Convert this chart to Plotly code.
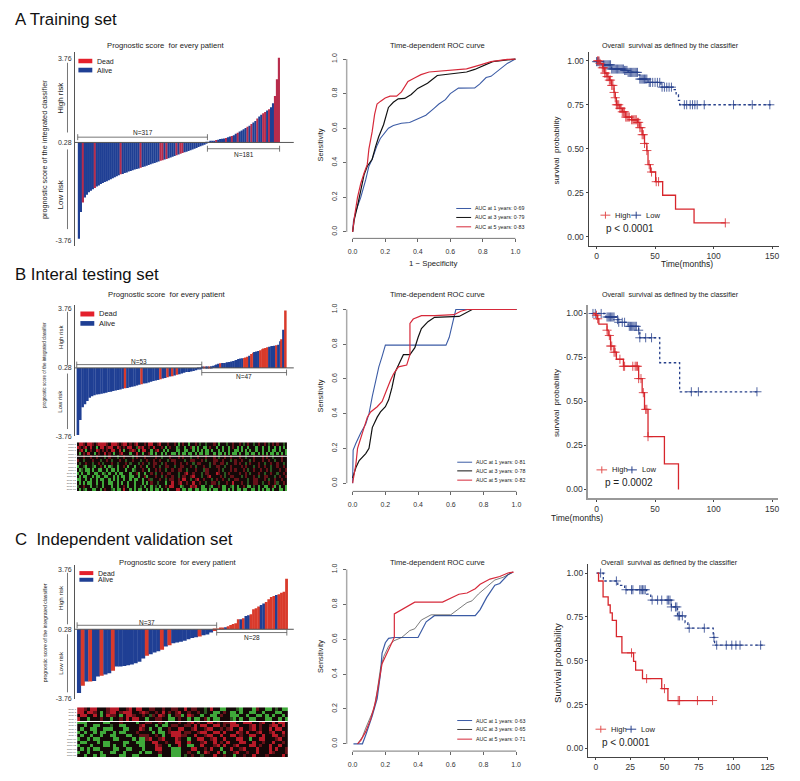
import bisect
import plotly.graph_objects as go

W = 800
H = 781
FONT = "Liberation Sans"
RED = "#e4202c"
BLUE = "#1f3f94"

# prognostic score bars, one list per risk group
low_a = [-3.70,-2.60,-2.20,-2.00,-1.88,-1.78,-1.72,-1.66,-1.60,-1.54,-1.50,-1.44,-1.40,-1.36,-1.32,-1.28,-1.24,-1.20,-1.16,-1.12,-1.08,-1.04,-1.02,-0.98,-0.96,-0.92,-0.90,-0.87,-0.84,-0.82,-0.80,-0.77,-0.74,-0.71,-0.68,-0.65,-0.62,-0.59,-0.57,-0.54,-0.51,-0.48,-0.46,-0.43,-0.40,-0.37,-0.34,-0.31,-0.28,-0.25,-0.22,-0.19,-0.16,-0.13,-0.10,-0.07,-0.04,-0.01,0.02,0.05,0.09,0.12,0.15,0.19,0.23]
high_a = [0.29,0.31,0.33,0.35,0.38,0.39,0.42,0.43,0.44,0.46,0.50,0.53,0.55,0.58,0.64,0.68,0.73,0.77,0.83,0.88,0.93,0.97,1.04,1.10,1.17,1.27,1.35,1.43,1.49,1.54,1.60,1.65,1.74,1.90,2.20,2.89,3.78]
dead_low_a = [2,8,21,31,41,42,44,49,51,52]
dead_high_a = [4,9,12,15,20,22,25,28,29,31,34,35,36]

low_b = [-3.68,-2.80,-2.05,-1.86,-1.68,-1.48,-1.39,-1.33,-1.29,-1.27,-1.25,-1.21,-1.19,-1.15,-1.13,-1.09,-1.05,-1.03,-0.99,-0.95,-0.92,-0.90,-0.86,-0.84,-0.80,-0.76,-0.72,-0.68,-0.64,-0.62,-0.58,-0.54,-0.50,-0.46,-0.43,-0.39,-0.35,-0.31,-0.27,-0.23,-0.21,-0.17,-0.13,-0.09,-0.05,-0.01,0.03,0.04,0.06,0.10,0.14,0.18,0.22]
high_b = [0.32,0.34,0.34,0.36,0.36,0.38,0.40,0.44,0.48,0.52,0.55,0.57,0.57,0.59,0.61,0.63,0.65,0.69,0.71,0.75,0.81,0.83,0.85,0.87,0.89,0.93,0.99,1.10,1.18,1.22,1.24,1.28,1.32,1.38,1.42,1.46,1.50,1.53,1.55,1.57,1.59,1.61,1.65,1.85,1.97,2.53,3.67]
dead_low_b = [20,27,35,38,40,42]
dead_high_b = [1,4,10,23,24,25,27,28,32,33,34,35,36,41,44,46]

low_c = [-3.46,-3.04,-2.78,-2.78,-2.76,-2.49,-2.45,-2.37,-2.31,-2.16,-1.90,-1.90,-1.87,-1.83,-1.79,-1.71,-1.63,-1.44,-1.28,-1.18,-1.09,-1.01,-0.93,-0.73,-0.66,-0.54,-0.50,-0.46,-0.40,-0.31,-0.23,-0.19,-0.15,-0.07,-0.03,0.09,0.18]
high_c = [0.30,0.34,0.36,0.40,0.46,0.53,0.59,0.63,0.87,0.87,0.92,1.06,1.10,1.16,1.45,1.51,1.61,1.70,1.80,1.88,2.04,2.17,2.23,2.29,2.33,2.43,2.48,3.24]
dead_low_c = [1,3,6,9,18,22,24,32,36]
dead_high_c = [0,1,2,4,5,6,7,8,10,13,14,15,16,19,20,21,22,24,25,26,27]

# ROC curves: false positive rate / sensitivity
roc_a_1x = [0,.005,.02,.05,.08,.1,.12,.15,.17,.2,.22,.25,.3,.35,.4,.45,.5,.53,.57,.6,.65,.75,.78,.82,.85,.9,.95,1]
roc_a_1y = [0,.06,.12,.2,.3,.38,.42,.5,.54,.58,.6,.615,.628,.633,.655,.675,.715,.74,.765,.8,.832,.833,.855,.893,.9,.94,.975,1]
roc_a_3x = [0,.01,.03,.05,.07,.09,.12,.14,.16,.19,.22,.25,.28,.32,.36,.4,.46,.52,.6,.7,.75,.8,.86,.95,1]
roc_a_3y = [0,.07,.15,.25,.33,.38,.42,.49,.55,.62,.72,.75,.77,.772,.795,.83,.86,.905,.915,.925,.94,.96,.985,.995,1]
roc_a_5x = [0,.01,.03,.05,.07,.09,.1,.12,.135,.15,.17,.2,.23,.27,.3,.34,.38,.42,.47,.55,.7,.78,.85,.95,1]
roc_a_5y = [0,.08,.2,.28,.34,.39,.48,.58,.68,.74,.755,.775,.785,.785,.81,.87,.89,.91,.925,.93,.943,.965,.985,.998,1]

roc_b_1x = [0,.003,.02,.05,.08,.1,.12,.14,.16,.18,.2,.57,.59,.61,.63,1]
roc_b_1y = [0,.19,.23,.29,.34,.4,.5,.58,.67,.73,.795,.795,.84,.92,1,1]
roc_b_3x = [0,.02,.04,.08,.1,.12,.15,.17,.2,.22,.24,.26,.29,.31,.35,.38,.4,.42,.46,.5,.65,.69,.73,1]
roc_b_3y = [.03,.09,.13,.17,.2,.32,.38,.41,.44,.48,.55,.64,.7,.74,.74,.78,.84,.89,.93,.955,.96,.98,1,1]
roc_b_5x = [0,.02,.03,.05,.07,.09,.11,.15,.18,.2,.23,.25,.28,.33,.34,.35,.35,.37,.42,.5,.62,.66,.7,1]
roc_b_5y = [0,.11,.2,.26,.33,.38,.41,.44,.47,.52,.59,.63,.67,.68,.71,.74,.92,.945,.965,.965,.97,.99,1,1]

roc_c_1x = [.005,.06,.08,.1,.12,.15,.17,.18,.2,.22,.25,.4,.43,.45,.5,.75,.78,.82,.87,.9,.95,.98]
roc_c_1y = [0,0,.05,.1,.16,.26,.4,.52,.58,.605,.61,.61,.66,.7,.735,.735,.77,.84,.91,.92,.97,.985]
roc_c_3x = [.03,.06,.08,.1,.13,.15,.17,.19,.22,.25,.3,.35,.38,.42,.48,.6,.63,.7,.73,.77,.82,.87,.92,.98]
roc_c_3y = [0,.04,.09,.13,.2,.3,.43,.5,.56,.59,.61,.65,.66,.71,.74,.74,.76,.81,.82,.86,.9,.94,.955,.985]
roc_c_5x = [.03,.05,.08,.11,.14,.16,.18,.21,.24,.255,.255,.3,.33,.38,.55,.6,.65,.7,.75,.78,.84,.9,.95,.985]
roc_c_5y = [0,.02,.07,.14,.24,.36,.46,.52,.58,.61,.745,.77,.79,.813,.813,.835,.858,.865,.89,.915,.945,.96,.98,.985]

# survival curves: step times, survival after each step, censoring times
km_a_high_t = [0,3,5,7,9,11,13,15,16,17,20,22,25,30,35,37,39,41,43,44,46,50.5,56.5,67.5,83.3,110]
km_a_high_s = [1.0,.985,.96,.93,.91,.89,.86,.82,.79,.75,.73,.71,.68,.665,.65,.62,.58,.53,.49,.41,.368,.313,.236,.157,.079,.079]
km_a_high_c = [1,2,3,5,6,7,8,9,10,11,12,13,14,15,16,17,18,19,20,21,22,23,24,25,26,27,28,30,31,32,33,34,35,36,37,38,39,40,41,43,45,47,51,53,110]
km_a_low_t = [0,6,13,24,27,36,37,44,55,65.5,68,70,71,150]
km_a_low_s = [.995,.977,.953,.945,.934,.92,.896,.877,.85,.836,.807,.775,.75,.75]
km_a_low_c = [0,1,2,6,7,8,9,10,11,12,13,14,15,16,17,18,19,20,21,22,23,24,25,26,27,28,29,30,31,32,33,34,35,37,38,39,40,41,42,43,45,46,48,50,52,54,56,58,60,62,64,75,77,80,82,84,86,92,117,133,148]

km_b_high_t = [-3,-1,1,2,9,10,12,15,17,23,36,39,41,44,58,70,70]
km_b_high_s = [1.0,.99,.97,.94,.905,.875,.815,.78,.74,.70,.63,.55,.455,.30,.145,.145,0]
km_b_high_c = [0,1,9,11,12,13,15,16,20,23,24,31,33,34,35,36,38,40,42,43,44]
km_b_low_t = [-3,8,17.5,19,27,36,37,54,71,137]
km_b_low_s = [1.0,.98,.965,.95,.927,.905,.862,.72,.555,.555]
km_b_low_c = [-3,-1,4,9,10,11,12,13,14,15,18,19,22,24,28,29,30,31,32,33,34,36,37,42,47,81,87,137]

km_c_high_t = [1,2,5.3,9,10.5,12,15,19,27.5,29,34,48,52.5,85]
km_c_high_s = [1.0,.955,.864,.818,.773,.73,.638,.545,.496,.447,.398,.341,.273,.273]
km_c_high_c = [26,37,50,60,61,74,85]
km_c_low_t = [1,5.5,16,21,37,40,55,59.5,65,67,85.5,86.5,122]
km_c_low_s = [1.0,.955,.93,.905,.88,.846,.807,.756,.718,.686,.633,.589,.589]
km_c_low_c = [3.5,15,22,26,27,32,33,34,35,36,41,45,48,52,53,54,55,58,59,60,61,63,68,79,86,88,95,99,102,105,120]

# gene expression cells: G/g green, k black, r/R red
heat_b = [
    "kRRrk RRrkr RRRRr kRRRr krRRk rkrRk kkrkR RkkrR kkkrk krkGk rkkGk krkgk kgkkk rkGkk kgkkr kkrkg krkkg krkkr kgkrk rkkgk",
    "RrkrR kRkkG kRRkr RRkkR rkrkR RkkgR rRkkr kRkkk rkGkr kkGgk kGkkr GkGkk GGkrk kGkkG kkGkr kGkGk kGkkk GkkGk kGkkG kGkGk",
    "krRkG krkkR rkrkr kRRkk RkGkk rRrkG kRRkk GkrRk kGkGk kkGGk kGGkk GkGkG kGGkG kkGkG kkGkk GGkGk GkGkk GkkGk kGkGG kGkkG",
    "kGkrk RkkGk rkkRk rkGkk rRkkk GkkRk kGkkr GkGkk GkGkk GGkGk GGkGG kGkGG kGGkk GkGGk GkGkG GkGkk GGkGG kGkGk GkGGk GkGkG",
    "kkkrk krkkr kkkgk rkkkg kkrkk kgkrk kkrkk kkrkk gkkkr kkkrk rkkkg kkrkk krkkk rkgkk rkkrk kkrkk gkkkr kkkrk rkkgk kkrkk",
    "rkkgk kkrkk kgkkr kgkkk rkkgk krkkk gkkrk krkkr kkkgk rrkkk kgkkr rkkkr kgkkk rrkkr kkkgk rkkrk kkgkr kkkrk krkkg kkrkk",
    "kgkkr kkgkk rkgkk krkkg kkkrk gkkkg krkkg krrkk gkrkk krkkr kkrkk gkrrk kkkgk rkkrr kgkkk rkrkk gkrkk krkkg kkrkk rkkgk",
    "GkkgG kkgGk krkGk GgkkG kkrkG kkGkk rkkGk krkkg kkrrk kgkkr rkkkr kgkkk rkkgk krrkk gkkrk kkkrk rkkkg krkkr kkgkk rkkrk",
    "kGgkG GkGkk GGkkG kGGkG kkkGk kGgkk krkkG kkrkr kkgkk rkkrr kkgkk krkkk grrkk kkrkg kkkrk rkkkr kgkkr kkrkk rkgkk krkkr",
    "GkGkk GkkGG kkGgk GkkGk GGkkk GkkrG kkGkk rkgkk rkkrr kkkgk krRkk rkkkg krrkk kRrkk gkrkk kkrkk rkgkk krkkg kkrkk gkkrk",
    "kGkGG kkGkG GkkGG kkGkG kGGkk GGkkG kkrGk kkrkk gkrkk rkkgk rrkkr Rkkkg kkrRk kkkrk gkkrr kkkgk rkkkr kgkkr rkkkg krkkr",
    "GGkkG kGkkG kGGkk GkGkG kkGkk GkGGk kGkkr gkkkr kkgkr rkkrk RRkkg krRkk rkkkg krkkr kkgkk rrkkk kgkkr rkkkr kgkkr kkrkk",
    "kGkGk GGkkG kkGkk GGkkG kGkkG kkGkk kGkGk rkkgk kkGkk RkkrR kkrkk Rkkrk kgkkr rkgkk krkkR kkkrk kgkkr rkkgk krkkr gkkrk",
    "gkkrk kGkkg kkGkk kGkkG kkrkG kkGkk gkGkk GkgkG kkrkR RkkkG gkkkR rRkkG GkkgG kkrkG GkkgG kGkkr kGGkg kGkkG GkkrG kGkkG",
    "kGkgG kkGGk kGkrk kgGkG GkRkk GkGkG GkkGk GkGGk GkkGk kkRRk GGkGG kGGkG GGkGk GGkkG GkGkG kGGkG GkkGG kGkGk GGkGk kGGkG",
]
heat_c = [
    "RRrkR Rkkkr RRRkk rRkRR kkrrk krkkr rkkRk rrkkg kRkkG Gkkkg GkkkG rkkGG kgkGG",
    "RRkRR rkGkr RRkrR RRkkr Rrkkr kRkrk rRkkr kkrkg kkGGk rkGGk GkkGG kkGkk kGGkk",
    "kRRkk RkGkR rrkGk RRrkk rkgrk RrkGk rrGkR rkkGk kGGkr kkGGG kkGkk GGkGk GkkGk",
    "RkkGk kkrkk Gkkrk RkRRk kGkkr rkkGG krkkG kGGkr GkGGk kkgGk GkkGG kkkGG kkGkG",
    "GGGkk kkkGG kkkrk kkkGk krrkk rkGkk krkkr Rkrkk RRkrk rrRRk kRRRk krRkk RkRRk",
    "kkGkk GGkkk gkkGG kkkkr RkkkG kGGkr rkkrr kRkRR kkRRk rkRRR kkkrR krkkr RRkRk",
    "kGkkG GkkGG GkkkG GkkkR rkGkk Gkkrk kRRkk rRkkr RRkkr krRkk RkkrR krkkR kRRkk",
    "GkGkk GkGGk kGkGG kkkrk kkkGk GGkrR RRkrr kkrRR kkRRk RkkkR rkRkk rRkkr RkkRk",
    "kGkkG kkGkk GGkkk GGkkr rrkkr kGkkR RRrrk kRkkr RRkkR kkRRk rkkRR kkRkk RRkrk",
    "GkkGk GGkkk kGGkk kkGkG GrRkk rRkkk RrkkG kkRRk krRkk RkkkR RkkGk kRRkk krRkk",
    "kGGkk kGkGG kkkkG GkkGG GkkRR kkrkk RRkkR kkkrR kkRkr kRkkk RRkkR kkrkk Rkkrk",
    "GkkkG kkkGG kGkkG kkkkG GkkkR rkkGk kRkkG GkkRk kkrRk RkkrR kkkRR krkkR kkRkk",
    "kGkGk GGkkk kGGkk GGkkk GkkkR RkkkG GGkkk RRkkr kRkkG kkRkk rRkkk RkkkR kRkkr",
    "GkkGk kkGkk GGkkG kkkkG kGGkk rkkkG GGkkr kkGkR rkkRk GkkrR kkrkk RkkkR rkkkr",
    "kkGkk GkGGk kkkGG kkGGk kkkkk GkkkG GGkgk rkkgk kkRkk rkkGk krkkR kkkrk kkkRk",
]
levels = {"G": -1, "g": -0.5, "k": 0, "r": 0.5, "R": 1}
gene_labels = ["gene %d" % (i + 1) for i in range(15)]

fig = go.Figure()
shapes = []
notes = []
axis_count = 0


def fx(p):
    return p / W


def fy(p):
    return 1 - p / H


def text(x, y, s, size, anchor="center", angle=0, color="#222"):
    notes.append(dict(x=fx(x), y=fy(y), xref="paper", yref="paper", text=s, showarrow=False,
                      xanchor=anchor, yanchor="middle", textangle=angle,
                      font=dict(family=FONT, size=size, color=color)))


def line(x0, y0, x1, y1, color="#555", width=1, dash="solid"):
    shapes.append(dict(type="line", xref="paper", yref="paper", x0=fx(x0), y0=fy(y0), x1=fx(x1), y1=fy(y1),
                       line=dict(color=color, width=width, dash=dash)))


def rect(x0, y0, x1, y1, color):
    shapes.append(dict(type="rect", xref="paper", yref="paper", x0=fx(x0), y0=fy(y0), x1=fx(x1), y1=fy(y1),
                       fillcolor=color, line=dict(width=0)))


def new_axes(xaxis, yaxis):
    global axis_count
    axis_count += 1
    n = axis_count
    name = "" if n == 1 else str(n)
    xaxis["anchor"] = "y" + name
    yaxis["anchor"] = "x" + name
    fig.update_layout({"xaxis" + name: xaxis, "yaxis" + name: yaxis})
    return "x" + name, "y" + name


def bracket(x0, x1, y, label, label_y):
    line(x0, y, x1, y, "#555", 0.8)
    line(x0, y - 3, x0, y + 3, "#555", 0.8)
    line(x1, y - 3, x1, y + 3, "#555", 0.8)
    text((x0 + x1) / 2, label_y, label, 6.5)


def bar_panel(low, high, dead_low, dead_high, left, start, mid, end, right, top, bottom, zero, per_px, dead_color):
    low_w = (mid - start) / len(low)
    high_w = (end - mid) / len(high)
    xs = [start + (i + 0.5) * low_w for i in range(len(low))] + [mid + (i + 0.5) * high_w for i in range(len(high))]
    # a little overlap so no white seams show between neighbouring bars
    widths = [low_w * 1.1] * len(low) + [high_w * 1.1] * len(high)
    colors = [dead_color if i in dead_low else BLUE for i in range(len(low))]
    colors += [dead_color if i in dead_high else BLUE for i in range(len(high))]
    values = low + high
    xa = dict(domain=[fx(left), fx(right)], range=[left, right], visible=False, fixedrange=True)
    ya = dict(domain=[fy(bottom), fy(top)],
              range=[0.28 - (bottom - zero) * per_px, 0.28 + (zero - top) * per_px],
              tickvals=[3.76, 0.28, -3.76], ticktext=["3.76", "0.28", "-3.76"], ticks="", showgrid=False,
              zeroline=False, showline=True, linecolor="#555", linewidth=1, ticklabelstandoff=1,
              tickfont=dict(family=FONT, size=7, color="#333"))
    x, y = new_axes(xa, ya)
    fig.add_trace(go.Bar(x=xs, y=[v - 0.28 for v in values], base=0.28, width=widths, xaxis=x, yaxis=y,
                         marker=dict(color=colors, line=dict(width=0))))
    line(left, zero, right, zero, "#555", 1)


def roc_panel(curves, x0, x1, y1, y0, axis_x, axis_y, labels, label_ys, text_x):
    ux = (x1 - x0)
    uy = (y0 - y1)
    top = y1 - 6
    right = x1 + 6
    xa = dict(domain=[fx(axis_x), fx(right)], range=[(axis_x - x0) / ux, (right - x0) / ux],
              tickvals=[0, .2, .4, .6, .8, 1], tickformat=".1f", ticks="outside", ticklen=3, tickcolor="#666",
              showgrid=False, zeroline=False, showline=False, ticklabelstandoff=3,
              tickfont=dict(family=FONT, size=7, color="#333"))
    ya = dict(domain=[fy(axis_y), fy(top)], range=[(y0 - axis_y) / uy, (y0 - top) / uy],
              tickvals=[0, .2, .4, .6, .8, 1], tickformat=".1f", ticks="outside", ticklen=3, tickcolor="#666",
              tickangle=-90, showgrid=False, zeroline=False, showline=False, ticklabelstandoff=3,
              tickfont=dict(family=FONT, size=7, color="#333"))
    x, y = new_axes(xa, ya)
    for cx, cy, color, width in curves:
        fig.add_trace(go.Scatter(x=cx, y=cy, mode="lines", xaxis=x, yaxis=y, line=dict(color=color, width=width)))
    line(axis_x, y1, axis_x, y0, "#aaa", 1.5)
    line(x0, axis_y, x1, axis_y, "#777", 1)
    for label, ly, (cx, cy, color, width) in zip(labels, label_ys, curves):
        line(text_x - 17, ly, text_x - 2, ly, color, 1)
        text(text_x, ly, label, 5.3, "left")


def surv_at(times, probs, t):
    i = bisect.bisect_right(times, t) - 1
    return probs[max(i, 0)]


def km_panel(high, low, zero_x, per_unit_x, zero_y, per_unit_y, left, right, top, bottom, xticks, axis_color="#444", axis_width=1):
    xa = dict(domain=[fx(left), fx(right)], range=[(left - zero_x) / per_unit_x, (right - zero_x) / per_unit_x],
              tickvals=xticks, ticks="outside", ticklen=2, tickcolor="#444", showgrid=False, zeroline=False,
              showline=True, linecolor=axis_color, linewidth=axis_width, tickfont=dict(family=FONT, size=8.5, color="#333"))
    ya = dict(domain=[fy(bottom), fy(top)], range=[(zero_y - bottom) / per_unit_y, (zero_y - top) / per_unit_y],
              tickvals=[0, .25, .5, .75, 1], tickformat=".2f", ticks="outside", ticklen=2, tickcolor="#444",
              showgrid=False, zeroline=False, showline=True, linecolor=axis_color, linewidth=axis_width,
              tickfont=dict(family=FONT, size=8.5, color="#333"))
    x, y = new_axes(xa, ya)
    for (t, s, c), color, dash in ((low, "#27408b", "2.5px,2.5px"), (high, "#d7262c", "solid")):
        fig.add_trace(go.Scatter(x=t, y=s, mode="lines", xaxis=x, yaxis=y, line=dict(color=color, width=1.3, shape="hv", dash=dash)))
        fig.add_trace(go.Scatter(x=c, y=[surv_at(t, s, v) for v in c], mode="markers", xaxis=x, yaxis=y,
                                 marker=dict(symbol="cross-thin", size=6.5, line=dict(color=color, width=0.8))))


def km_key(y, hi0, hi1, hi_text, lo0, lo1, lo_text, p_text, p_x, p_y):
    line(hi0, y, hi1, y, "#e2504f", 1)
    line((hi0 + hi1) / 2, y - 3.5, (hi0 + hi1) / 2, y + 3.5, "#e2504f", 1)
    text(hi_text + 1, y, "High", 7.6, "left")
    line(lo0, y, lo1, y, "#27408b", 1)
    line((lo0 + lo1) / 2, y - 3.5, (lo0 + lo1) / 2, y + 3.5, "#27408b", 1)
    text(lo_text + 1, y, "Low", 7.6, "left")
    text(p_x + 2, p_y, p_text, 10, "left")


def heat_panel(rows, left, right, top, bottom, sep):
    z = [[levels[c] for c in row.replace(" ", "")] for row in rows]
    xa = dict(domain=[fx(left), fx(right)], visible=False, fixedrange=True)
    ya = dict(domain=[fy(bottom), fy(top)], autorange="reversed", tickvals=list(range(len(rows))), ticktext=gene_labels,
              ticks="", showgrid=False, zeroline=False, showline=False, tickfont=dict(family=FONT, size=2.5, color="#444"))
    x, y = new_axes(xa, ya)
    fig.add_trace(go.Heatmap(z=z, xaxis=x, yaxis=y, zmin=-1, zmax=1, showscale=False,
                             colorscale=[[0, "#3fa83a"], [0.5, "#140808"], [1, "#b81a28"]]))
    line(left, sep, right, sep, "white", 1.2)


def bar_text(title_x, title_y, hi_y, lo_y, ylab_y, side_size, ylab_size, bars1, bars2):
    text(title_x, title_y, "Prognostic score  for every patient", 7.7)
    text(60.7, hi_y, "High risk", side_size, angle=-90)
    text(60.7, lo_y, "Low risk", side_size, angle=-90)
    text(45, ylab_y, "prognostic score of the integrated classifier", ylab_size, angle=-90)
    line(68, bars1[0], 68, bars1[1], "#777", 1)
    line(68, bars2[0], 68, bars2[1], "#777", 1)


def bar_key(x0, x1, red_y, blue_y, text_x, size):
    rect(x0, red_y[0], x1, red_y[1], RED)
    rect(x0, blue_y[0], x1, blue_y[1], BLUE)
    text(text_x, (red_y[0] + red_y[1]) / 2, "Dead", size, "left")
    text(text_x, (blue_y[0] + blue_y[1]) / 2, "Alive", size, "left")


# panel headers
text(13, 20, "A Training set", 16.8, "left", color="#111")
text(13, 276, "B Interal testing set", 16.8, "left", color="#111")
text(13, 542, "C  Independent validation set", 16.8, "left", color="#111")

# A
bar_panel(low_a, high_a, dead_low_a, dead_high_a, 75.5, 78.5, 209, 282, 296, 52, 247, 143, 0.0412, "#b82c4c")
bar_text(167, 46, 98, 195, 150, 8, 7.3, (63, 133), (150, 230))
bar_key(79, 93, (59, 63.5), (68, 72.7), 96, 7)
bracket(78.3, 209, 137.7, "N=317", 133)
bracket(209, 281.7, 149.3, "N=181", 155)

curves = [(roc_a_1x, roc_a_1y, "#3b5ba5", 1.1), (roc_a_3x, roc_a_3y, "#111111", 1.2), (roc_a_5x, roc_a_5y, "#d6293a", 1.2)]
roc_panel(curves, 355.3, 519.3, 59.3, 232.7, 349.3, 239.3,
          ["AUC at 1 years: 0·69", "AUC at 3 years: 0·79", "AUC at 5 years: 0·83"], [209.3, 218.3, 227.7], 476.7)
text(441, 45.7, "Time-dependent ROC curve", 7.6)
text(322.7, 145.7, "Sensitivity", 7.3, angle=-90)
text(436.7, 265, "1 − Specificity", 7.8)

km_panel((km_a_high_t, km_a_high_s, km_a_high_c), (km_a_low_t, km_a_low_s, km_a_low_c),
         601, 1.18, 237.7, 176.7, 593, 785, 52.7, 246.7, [0, 50, 100, 150])
text(675.3, 45.7, "Overall  survival as defined by the classifier", 7.1)
text(560.7, 150.7, "survival  probability", 8, angle=-90)
text(691.7, 265, "Time(months)", 8.5)
km_key(216, 605, 615, 617, 636, 646, 648, "p &lt; 0.0001", 606.7, 229)

# B
bar_panel(low_b, high_b, dead_low_b, dead_high_b, 75.7, 77.3, 203.3, 288.7, 296, 305.7, 438, 369.3, 0.0588, "#d93a2b")
bar_text(168.3, 296, 338, 403, 366.7, 6, 4.5, (313, 366.7), (375, 430.7))
bar_key(81, 95, (312.7, 317.7), (322.3, 327), 98, 7.5)
bracket(77.3, 203.3, 366, "N=53", 363.3)
bracket(203.3, 288.7, 374, "N=47", 378)
heat_panel(heat_b, 77.5, 289.5, 444, 493, 458)

curves = [(roc_b_1x, roc_b_1y, "#3b5ba5", 1.1), (roc_b_3x, roc_b_3y, "#111111", 1.2), (roc_b_5x, roc_b_5y, "#d6293a", 1.2)]
roc_panel(curves, 355.3, 520.3, 310.7, 485, 349.3, 493.3,
          ["AUC at 1 years: 0·81", "AUC at 3 years: 0·78", "AUC at 5 years: 0·82"], [464, 472.7, 482], 477.7)
text(441, 295.7, "Time-dependent ROC curve", 7.6)
text(322.7, 397.7, "Sensitivity", 7.3, angle=-90)

km_panel((km_b_high_t, km_b_high_s, km_b_high_c), (km_b_low_t, km_b_low_s, km_b_low_c),
         601, 1.18, 491.3, 176.6, 592.7, 784, 305.7, 500, [0, 50, 100, 150], "#999", 1.6)
text(675.3, 296, "Overall  survival as defined by the classifier", 7.1)
text(560.7, 404, "survival  probability", 8, angle=-90)
text(581.7, 520, "Time(months)", 8.5)
km_key(471.7, 601, 611.7, 614, 631.7, 641.7, 644.3, "p = 0.0002", 605.7, 484)

# C
bar_panel(low_c, high_c, dead_low_c, dead_high_c, 75.7, 77.7, 218.3, 290, 296, 566.7, 701.7, 631.7, 0.0585, "#d93a2b")
bar_text(179.5, 565, 600, 665, 635, 6.2, 5.2, (575, 626.7), (636.7, 695))
bar_key(80, 94, (573.3, 577.3), (580, 584), 97, 7)
bracket(77.7, 218.3, 627.7, "N=37", 625)
bracket(218.3, 289, 635, "N=28", 640)
heat_panel(heat_c, 77.7, 290, 710, 760, 724.3)

curves = [(roc_c_1x, roc_c_1y, "#3b5ba5", 1.2), (roc_c_3x, roc_c_3y, "#444444", 0.7), (roc_c_5x, roc_c_5y, "#d6293a", 1.2)]
roc_panel(curves, 355.3, 520, 571.7, 746.7, 349.3, 754,
          ["AUC at 1 years: 0·63", "AUC at 3 years: 0·65", "AUC at 5 years: 0·71"], [723.3, 732.3, 742], 477.7)
text(441, 565, "Time-dependent ROC curve", 7.6)
text(322.7, 659.3, "Sensitivity", 7.3, angle=-90)

km_panel((km_c_high_t, km_c_high_s, km_c_high_c), (km_c_low_t, km_c_low_s, km_c_low_c),
         600.3, 1.384, 751.3, 176, 592.3, 774.3, 566, 760, [0, 25, 50, 75, 100, 125])
text(675, 565, "Overall  survival as defined by the classifier", 7.1)
text(561.7, 665, "Survival probability", 9.5, angle=-90)
km_key(732, 600, 610.7, 612.7, 630.7, 641, 643.3, "p &lt; 0.0001", 602.7, 745.7)

fig.update_layout(width=W, height=H, margin=dict(l=0, r=0, t=0, b=0), paper_bgcolor="white", plot_bgcolor="rgba(0,0,0,0)",
                  showlegend=False, barmode="overlay", shapes=shapes, annotations=notes,
                  font=dict(family=FONT))
fig.write_html("out.html", config={"displayModeBar": False}, post_script="document.body.style.margin='0';")
